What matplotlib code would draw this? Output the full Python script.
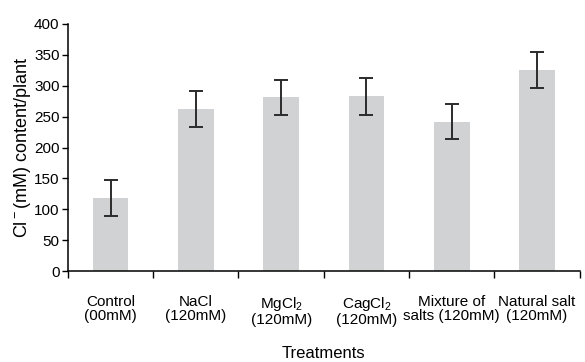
import matplotlib.pyplot as plt

plt.rcParams['font.family'] = ['Liberation Sans', 'DejaVu Sans']
plt.rcParams['mathtext.fontset'] = 'custom'
plt.rcParams['mathtext.rm'] = 'Liberation Sans'
plt.rcParams['mathtext.default'] = 'regular'

# data
treatments = ['Control\n(00mM)', 'NaCl\n(120mM)', 'MgCl$_2$\n(120mM)',
              'CagCl$_2$\n(120mM)', 'Mixture of\nsalts (120mM)', 'Natural salt\n(120mM)']
chloride = [119, 262, 281, 283, 242, 326]
errors = [29, 29, 29, 30, 29, 29]
y_ticks = [0, 50, 100, 150, 200, 250, 300, 350, 400]

fig = plt.figure(figsize=(5.85, 3.62), dpi=100)
ax = fig.add_axes([0.116, 0.251, 0.875, 0.683])

x = list(range(len(treatments)))
ax.bar(x, chloride, width=0.42, color='#d1d2d4', zorder=1)
ax.errorbar(x, chloride, yerr=errors, fmt='none', ecolor='#2b2b2b',
            elinewidth=1.4, capsize=4.8, capthick=1.4, zorder=2)

ax.set_xlim(-0.5, 5.5)
ax.set_ylim(0, 400)
ax.set_yticks(y_ticks)
ax.tick_params(axis='y', direction='out', length=4, width=1, labelsize=11, pad=2)

ax.set_xticks(x)
ax.set_xticklabels(treatments, fontsize=11, linespacing=1.0)
ax.tick_params(axis='x', length=0, pad=17)
ax.set_xticks([i - 0.5 for i in range(len(treatments) + 1)], minor=True)
ax.tick_params(axis='x', which='minor', direction='out', length=5, width=1)

for s in ['top', 'right']:
    ax.spines[s].set_visible(False)
for s in ['left', 'bottom']:
    ax.spines[s].set_linewidth(1.1)

ax.set_ylabel('Cl$^-$(mM) content/plant', fontsize=13, labelpad=1)
ax.set_xlabel('Treatments', fontsize=12, labelpad=14)

fig.savefig('out.png', dpi=100, facecolor='white')
